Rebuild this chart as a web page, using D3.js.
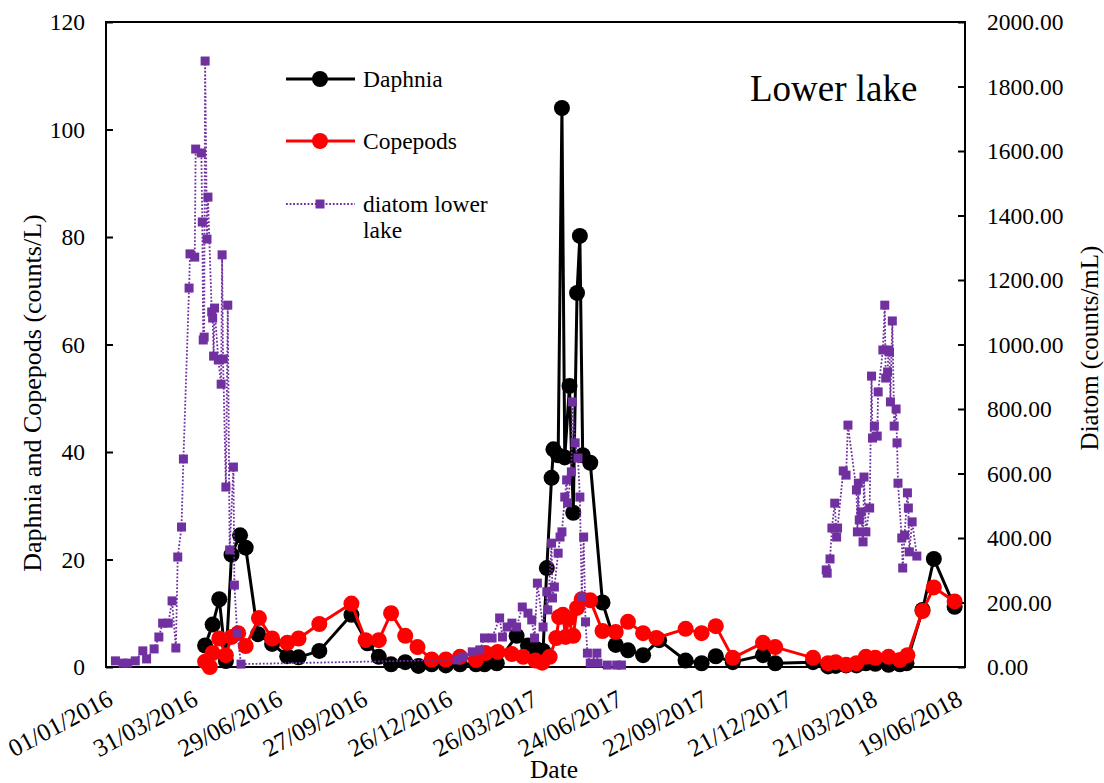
<!DOCTYPE html>
<html>
<head>
<meta charset="utf-8">
<script src="https://cdn.jsdelivr.net/npm/d3@7"></script>
<style>
  body { margin: 0; background: #fff; }
  text { font-family: "Liberation Serif", "Times New Roman", serif; fill: #000; }
</style>
</head>
<body>
<svg id="chart" width="1104" height="783"></svg>
<script>
// sample dates are Excel serial numbers (42370 = 01/01/2016)
const daphniaDates = [42475,42483,42490,42497,42503,42512,42518,42531,42546,42562,42574,42596,42630,42647,42659,42672,42687,42701,42715,42730,42745,42762,42771,42784,42805,42817,42826,42833,42837,42842,42844,42849,42853,42856,42861,42865,42869,42872,42875,42883,42896,42910,42923,42939,42956,42984,43001,43016,43034,43066,43079,43119,43135,43143,43154,43165,43175,43185,43199,43211,43218,43235,43247,43269];
const daphniaCounts = [4.0,7.9,12.6,1.1,20.9,24.5,22.2,6.1,4.3,2.0,1.8,3.0,9.7,4.4,1.9,0.5,0.9,0.2,0.5,0.3,0.5,0.5,0.5,0.7,5.8,4.0,3.3,3.0,18.4,35.2,40.5,39.4,104.0,39.0,52.3,28.7,69.6,80.2,39.4,38.0,12.0,4.1,3.1,2.2,5.0,1.2,0.7,2.0,0.9,2.2,0.7,0.9,0.1,0.2,0.3,0.3,0.7,0.6,0.4,0.5,0.7,10.6,20.1,11.2];

const copepodDates = [42475,42480,42483,42490,42497,42503,42510,42518,42532,42546,42562,42574,42596,42630,42645,42659,42672,42687,42700,42715,42730,42745,42762,42772,42785,42800,42812,42825,42832,42840,42847,42850,42854,42857,42860,42865,42869,42874,42883,42896,42910,42923,42939,42953,42984,43001,43016,43034,43066,43079,43119,43135,43143,43154,43165,43175,43185,43199,43211,43219,43235,43247,43269];
const copepodCounts = [1.0,0.0,2.6,5.3,2.2,5.6,6.3,3.9,9.1,5.3,4.5,5.3,8.0,11.8,5.0,5.0,10.0,5.8,3.7,1.4,1.4,1.9,1.3,2.6,2.8,2.4,1.9,1.2,0.8,1.9,5.4,9.3,9.7,5.6,9.0,5.8,11.0,12.6,12.4,6.7,6.5,8.4,6.3,5.4,7.1,6.3,7.6,1.7,4.5,3.7,1.7,0.7,0.9,0.4,0.7,1.9,1.7,1.9,1.3,2.2,10.4,14.8,12.2];

// diatom samples (several per visit); null = no sampling over summer/autumn 2017
const diatomDates = [42380,42388,42393,42401,42409,42413,42421,42426,42430,42436,42440,42444,42446,42450,42452,42458,42459,42464,42465,42471,42472,42473,42474,42475,42477,42478,42482,42483,42484,42485,42489,42492,42493,42494,42497,42499,42501,42505,42506,42509,42513,
  42742,42748,42758,42766,42771,42779,42787,42790,42795,42800,42805,42811,42817,42821,42824,42827,42833,42837,42838,42842,42843,42845,42849,42851,42853,42856,42858,42859,42863,42864,42867,42870,42872,42874,42876,42878,42880,42883,42890,42891,42901,42911,42916,
  43100,
  43133,43134,43137,43139,43142,43144,43145,43151,43154,43156,43165,43166,43167,43168,43170,43172,43173,43175,43179,43181,43182,43184,43187,43188,43193,43195,43196,43198,43199,43200,43201,43203,43205,43207,43208,43209,43213,43214,43216,43219,43220,43221,43224,43229];
const diatomCounts = [19,12,12,19,50,25,56,93,136,136,205,59,341,434,645,1175,1281,1271,1606,1594,1380,1014,1023,1879,1327,1457,1101,1082,964,1113,952,877,1278,955,558,1122,363,620,254,105,9,
  22,31,47,53,90,90,152,93,124,136,124,186,167,146,90,260,124,233,177,384,214,248,353,403,419,527,580,509,605,822,695,648,527,217,403,140,43,12,43,12,6,6,6,
  null,
  301,291,335,431,508,403,431,608,595,750,549,419,570,456,481,388,589,419,493,902,710,747,716,853,983,1122,896,915,983,977,822,1073,747,800,695,570,400,307,409,540,493,357,450,344];

const xTickLabels = ["01/01/2016","31/03/2016","29/06/2016","27/09/2016","26/12/2016","26/03/2017","24/06/2017","22/09/2017","21/12/2017","21/03/2018","19/06/2018"];
const leftTicks = [0,20,40,60,80,100,120];
const rightTicks = [0,200,400,600,800,1000,1200,1400,1600,1800,2000];
const axisStart = 42370, axisEnd = 43280;

const serialToDate = s => new Date(Date.UTC(1899, 11, 30) + s * 864e5);
const parseTick = d3.utcParse("%d/%m/%Y");

const svg = d3.select("#chart");
const L = 106, R = 965, T = 22, B = 667;

const x = d3.scaleUtc().domain([serialToDate(axisStart), serialToDate(axisEnd)]).range([L, R]);
const yL = d3.scaleLinear().domain([0, 120]).range([B, T]);
const yR = d3.scaleLinear().domain([0, 2000]).range([B, T]);

const fs = "23.5px";
const titleFs = "26px";

// left axis
const gL = svg.append("g").attr("transform", `translate(${L},0)`)
  .call(d3.axisLeft(yL).tickValues(leftTicks).tickSizeInner(-7).tickSizeOuter(0).tickPadding(21));
gL.select(".domain").remove();
gL.selectAll("line").attr("stroke", "#000").attr("stroke-width", 2);
gL.selectAll("text").style("font-size", fs).attr("font-family", null);

// right axis
const gR = svg.append("g").attr("transform", `translate(${R},0)`)
  .call(d3.axisRight(yR).tickValues(rightTicks).tickFormat(d3.format(".2f")).tickSizeInner(-7).tickSizeOuter(0).tickPadding(22));
gR.select(".domain").remove();
gR.selectAll("line").attr("stroke", "#000").attr("stroke-width", 2);
gR.selectAll("text").style("font-size", fs).attr("font-family", null);

// bottom axis, rotated date labels
const gB = svg.append("g").attr("transform", `translate(0,${B})`)
  .call(d3.axisBottom(x).tickValues(xTickLabels.map(parseTick)).tickFormat(d3.utcFormat("%d/%m/%Y")).tickSize(0));
gB.select(".domain").remove();
gB.selectAll("text")
  .style("font-size", "25px").attr("font-family", null)
  .attr("text-anchor", "end").attr("x", 0).attr("y", 0).attr("dy", null)
  .attr("transform", "translate(8,37) rotate(-28)");

// plot frame
svg.append("rect").attr("x", L).attr("y", T).attr("width", R - L).attr("height", B - T)
  .attr("fill", "none").attr("stroke", "#000").attr("stroke-width", 2);

// axis titles
svg.append("text").attr("transform", "translate(41,393) rotate(-90)")
  .attr("text-anchor", "middle").style("font-size", titleFs).text("Daphnia and Copepods (counts/L)");
svg.append("text").attr("transform", "translate(1098,348) rotate(-90)")
  .attr("text-anchor", "middle").style("font-size", "25px").text("Diatom (counts/mL)");
svg.append("text").attr("x", 554).attr("y", 778).attr("text-anchor", "middle").style("font-size", "25.5px").text("Date");

svg.append("text").attr("x", 750).attr("y", 101).style("font-size", "37px").text("Lower lake");

// series
const toRows = (dates, vals) => dates.map((d, i) => ({ date: serialToDate(d), v: vals[i] }));
const daphnia = toRows(daphniaDates, daphniaCounts);
const copepods = toRows(copepodDates, copepodCounts);
const diatom = toRows(diatomDates, diatomCounts);

function drawCircles(rows, color) {
  const line = d3.line().x(d => x(d.date)).y(d => yL(d.v));
  svg.append("path").datum(rows).attr("d", line)
    .attr("fill", "none").attr("stroke", color).attr("stroke-width", 3).attr("stroke-linejoin", "round");
  svg.append("g").selectAll("circle").data(rows).join("circle")
    .attr("cx", d => x(d.date)).attr("cy", d => yL(d.v)).attr("r", 8).attr("fill", color);
}
drawCircles(daphnia, "#000");
drawCircles(copepods, "#ff0000");

const purple = "#7030a0";
const dLine = d3.line().defined(d => d.v != null).x(d => x(d.date)).y(d => yR(d.v));
svg.append("path").datum(diatom).attr("d", dLine)
  .attr("fill", "none").attr("stroke", purple).attr("stroke-width", 1.8).attr("stroke-dasharray", "1.8,1.8");
svg.append("g").selectAll("rect").data(diatom.filter(d => d.v != null)).join("rect")
  .attr("x", d => x(d.date) - 4.5).attr("y", d => yR(d.v) - 4.5)
  .attr("width", 9).attr("height", 9).attr("fill", purple);

// legend
const lg = svg.append("g");
[["Daphnia", "#000", 79], ["Copepods", "#ff0000", 141]].forEach(([name, c, yy]) => {
  lg.append("line").attr("x1", 286).attr("x2", 355).attr("y1", yy).attr("y2", yy).attr("stroke", c).attr("stroke-width", 3);
  lg.append("circle").attr("cx", 320).attr("cy", yy).attr("r", 8).attr("fill", c);
  lg.append("text").attr("x", 363).attr("y", yy + 8).style("font-size", fs).text(name);
});
lg.append("line").attr("x1", 286).attr("x2", 355).attr("y1", 204).attr("y2", 204)
  .attr("stroke", purple).attr("stroke-width", 1.8).attr("stroke-dasharray", "1.8,1.8");
lg.append("rect").attr("x", 315.5).attr("y", 199.5).attr("width", 9).attr("height", 9).attr("fill", purple);
lg.append("text").attr("x", 363).attr("y", 212).style("font-size", fs).text("diatom lower");
lg.append("text").attr("x", 363).attr("y", 238).style("font-size", fs).text("lake");
</script>
</body>
</html>
